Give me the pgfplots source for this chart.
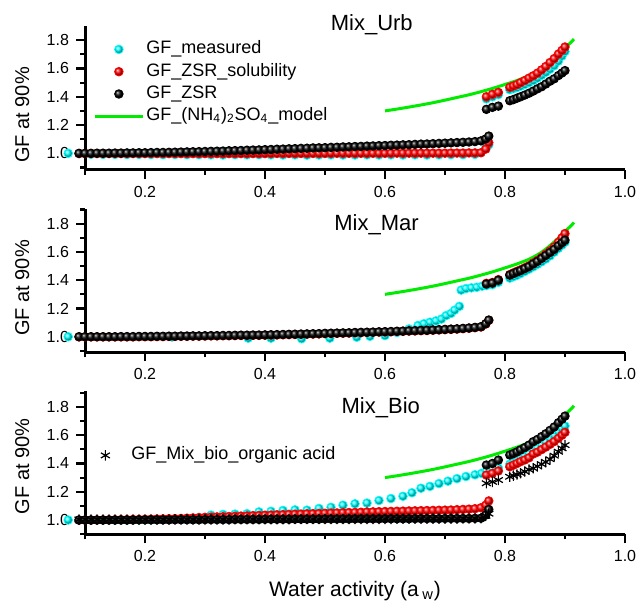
\documentclass[border=0pt]{standalone}
\usepackage{fontspec}
\setmainfont{Liberation Sans}
\usepackage{pgfplots}
\usepackage{pgfplotstable}
\pgfplotsset{compat=1.18}
\definecolor{gfcyan}{RGB}{0,255,255}
\definecolor{gfred}{RGB}{255,0,0}
\definecolor{gfgreen}{RGB}{0,235,0}

% ---- (NH4)2SO4 model curve, same in all panels ----
\pgfplotstableread{
x gf
0.600 1.300
0.620 1.313
0.640 1.327
0.660 1.342
0.680 1.358
0.700 1.376
0.720 1.395
0.740 1.414
0.760 1.436
0.780 1.460
0.800 1.487
0.820 1.515
0.840 1.548
0.850 1.570
0.860 1.595
0.870 1.627
0.880 1.663
0.890 1.702
0.900 1.745
0.910 1.785
0.915 1.808
}\tabgreen

% ---- Mix_Urb: x, ZSR_solubility, ZSR ----
\pgfplotstableread{
x sol zsr
0.09 0.998 1.000
0.10 0.998 1.000
0.11 0.998 1.000
0.12 0.998 1.001
0.13 0.998 1.001
0.14 0.998 1.001
0.15 0.998 1.002
0.16 0.998 1.002
0.17 0.998 1.003
0.18 0.998 1.003
0.19 0.998 1.004
0.20 0.998 1.004
0.21 0.998 1.005
0.22 0.998 1.006
0.23 0.998 1.006
0.24 0.998 1.007
0.25 0.998 1.008
0.26 0.998 1.009
0.27 0.998 1.010
0.28 0.998 1.011
0.29 0.998 1.012
0.30 0.998 1.013
0.31 0.998 1.014
0.32 0.998 1.015
0.33 0.998 1.016
0.34 0.998 1.018
0.35 0.998 1.019
0.36 0.998 1.020
0.37 0.998 1.022
0.38 0.998 1.023
0.39 0.998 1.024
0.40 0.998 1.026
0.41 0.999 1.027
0.42 0.999 1.029
0.43 0.999 1.030
0.44 0.999 1.032
0.45 0.999 1.033
0.46 0.999 1.035
0.47 0.999 1.036
0.48 0.999 1.038
0.49 0.999 1.039
0.50 0.999 1.040
0.51 1.000 1.042
0.52 1.000 1.043
0.53 1.000 1.045
0.54 1.000 1.046
0.55 1.000 1.048
0.56 1.000 1.049
0.57 1.000 1.051
0.58 1.000 1.052
0.59 1.000 1.054
0.60 1.000 1.055
0.61 1.001 1.057
0.62 1.001 1.058
0.63 1.001 1.060
0.64 1.001 1.061
0.65 1.001 1.063
0.66 1.001 1.065
0.67 1.001 1.066
0.68 1.001 1.068
0.69 1.001 1.070
0.70 1.001 1.072
0.71 1.002 1.074
0.72 1.002 1.076
0.73 1.002 1.078
0.74 1.003 1.080
0.75 1.003 1.083
0.76 1.004 1.088
0.768 1.030 1.102
0.773 1.075 1.122
0.769 1.400 1.311
0.779 1.417 1.325
0.789 1.431 1.334
0.808 1.467 1.372
0.814 1.476 1.380
0.820 1.486 1.390
0.826 1.500 1.400
0.833 1.515 1.412
0.840 1.532 1.425
0.847 1.548 1.440
0.854 1.567 1.456
0.861 1.590 1.471
0.868 1.614 1.490
0.875 1.642 1.510
0.882 1.670 1.527
0.889 1.702 1.550
0.895 1.728 1.568
0.900 1.752 1.585
}\taburb

\pgfplotstableread{
x meas
0.072 1.000
0.11 0.993
0.13 0.992
0.15 0.992
0.17 0.991
0.19 0.992
0.21 0.991
0.23 0.990
0.25 0.991
0.27 0.990
0.29 0.990
0.31 0.989
0.33 0.988
0.35 0.990
0.37 0.989
0.39 0.990
0.41 0.989
0.43 0.988
0.45 0.989
0.47 0.987
0.49 0.988
0.51 0.989
0.53 0.988
0.55 0.988
0.57 0.989
0.59 0.988
0.61 0.989
0.63 0.988
0.65 0.989
0.67 0.988
0.69 0.989
0.71 0.990
0.73 0.990
0.75 0.992
0.768 1.040
0.773 1.060
0.769 1.385
0.779 1.400
0.789 1.415
0.808 1.450
0.814 1.457
0.820 1.465
0.826 1.475
0.833 1.487
0.840 1.500
0.847 1.515
0.854 1.532
0.861 1.552
0.868 1.573
0.875 1.595
0.882 1.620
0.889 1.652
0.895 1.688
0.900 1.720
}\taburbmeas

% ---- Mix_Mar ----
\pgfplotstableread{
x sol zsr
0.09 0.999 1.000
0.10 0.999 1.000
0.11 0.999 1.000
0.12 0.999 1.000
0.13 0.999 1.000
0.14 0.999 1.000
0.15 0.999 1.000
0.16 0.999 1.001
0.17 0.999 1.001
0.18 0.999 1.001
0.19 1.000 1.002
0.20 1.000 1.002
0.21 1.000 1.002
0.22 1.001 1.003
0.23 1.001 1.003
0.24 1.002 1.004
0.25 1.002 1.004
0.26 1.003 1.005
0.27 1.003 1.005
0.28 1.004 1.006
0.29 1.004 1.006
0.30 1.005 1.007
0.31 1.006 1.008
0.32 1.006 1.008
0.33 1.007 1.009
0.34 1.007 1.009
0.35 1.008 1.010
0.36 1.009 1.011
0.37 1.009 1.011
0.38 1.010 1.012
0.39 1.010 1.012
0.40 1.011 1.013
0.41 1.012 1.014
0.42 1.013 1.015
0.43 1.014 1.016
0.44 1.015 1.017
0.45 1.016 1.018
0.46 1.017 1.019
0.47 1.018 1.020
0.48 1.019 1.021
0.49 1.020 1.022
0.50 1.022 1.024
0.51 1.023 1.025
0.52 1.024 1.026
0.53 1.025 1.027
0.54 1.026 1.028
0.55 1.028 1.030
0.56 1.029 1.031
0.57 1.030 1.032
0.58 1.031 1.033
0.59 1.033 1.035
0.60 1.034 1.036
0.61 1.035 1.037
0.62 1.037 1.039
0.63 1.038 1.040
0.64 1.040 1.042
0.65 1.041 1.043
0.66 1.043 1.045
0.67 1.044 1.046
0.68 1.046 1.048
0.69 1.048 1.050
0.70 1.050 1.052
0.71 1.052 1.054
0.72 1.054 1.056
0.73 1.057 1.059
0.74 1.060 1.062
0.75 1.064 1.066
0.76 1.069 1.071
0.768 1.090 1.092
0.773 1.116 1.118
0.769 1.378 1.373
0.779 1.384 1.380
0.789 1.404 1.400
0.808 1.440 1.436
0.814 1.452 1.447
0.820 1.463 1.458
0.826 1.474 1.468
0.833 1.488 1.482
0.840 1.502 1.496
0.847 1.522 1.515
0.854 1.540 1.533
0.861 1.562 1.554
0.868 1.585 1.575
0.875 1.608 1.596
0.882 1.635 1.618
0.889 1.668 1.644
0.895 1.700 1.665
0.900 1.730 1.683
}\tabmar

\pgfplotstableread{
x meas
0.072 1.000
0.245 0.998
0.372 0.990
0.410 0.990
0.461 0.986
0.508 0.990
0.553 0.997
0.575 1.003
0.600 1.008
0.620 1.030
0.640 1.055
0.655 1.080
0.665 1.092
0.675 1.103
0.685 1.112
0.694 1.125
0.702 1.150
0.710 1.165
0.716 1.188
0.724 1.215
0.727 1.330
0.735 1.341
0.744 1.346
0.753 1.350
0.762 1.358
0.769 1.362
0.779 1.368
0.789 1.385
0.808 1.415
0.814 1.425
0.820 1.435
0.826 1.447
0.833 1.462
0.840 1.478
0.847 1.495
0.854 1.512
0.861 1.530
0.868 1.550
0.875 1.572
0.882 1.598
0.889 1.625
0.895 1.648
0.900 1.668
}\tabmarmeas

% ---- Mix_Bio: x, ZSR_solubility, ZSR, organic acid ----
\pgfplotstableread{
x sol zsr star
0.09 1.000 1.000 1.004
0.10 1.000 1.000 1.004
0.11 1.000 1.000 1.004
0.12 1.001 1.000 1.004
0.13 1.001 1.000 1.004
0.14 1.002 1.000 1.004
0.15 1.002 1.000 1.004
0.16 1.003 1.000 1.004
0.17 1.003 1.000 1.004
0.18 1.004 1.000 1.004
0.19 1.004 1.001 1.004
0.20 1.005 1.001 1.004
0.21 1.006 1.001 1.004
0.22 1.007 1.001 1.004
0.23 1.008 1.001 1.004
0.24 1.009 1.001 1.004
0.25 1.010 1.002 1.005
0.26 1.011 1.002 1.005
0.27 1.013 1.002 1.005
0.28 1.015 1.002 1.005
0.29 1.017 1.002 1.005
0.30 1.019 1.003 1.005
0.31 1.020 1.003 1.005
0.32 1.022 1.003 1.005
0.33 1.023 1.003 1.005
0.34 1.025 1.003 1.005
0.35 1.026 1.004 1.006
0.36 1.028 1.004 1.006
0.37 1.029 1.004 1.006
0.38 1.031 1.004 1.006
0.39 1.032 1.004 1.006
0.40 1.034 1.005 1.006
0.41 1.035 1.005 1.006
0.42 1.037 1.005 1.006
0.43 1.038 1.005 1.006
0.44 1.040 1.005 1.006
0.45 1.041 1.006 1.007
0.46 1.042 1.006 1.007
0.47 1.044 1.006 1.007
0.48 1.045 1.006 1.007
0.49 1.046 1.006 1.007
0.50 1.048 1.007 1.007
0.51 1.049 1.007 1.007
0.52 1.050 1.007 1.007
0.53 1.052 1.007 1.007
0.54 1.053 1.007 1.008
0.55 1.054 1.008 1.008
0.56 1.055 1.008 1.008
0.57 1.057 1.008 1.008
0.58 1.058 1.008 1.008
0.59 1.059 1.008 1.008
0.60 1.060 1.009 1.008
0.61 1.061 1.009 1.008
0.62 1.062 1.009 1.009
0.63 1.063 1.009 1.009
0.64 1.064 1.009 1.009
0.65 1.065 1.010 1.009
0.66 1.066 1.010 1.009
0.67 1.067 1.010 1.009
0.68 1.068 1.010 1.010
0.69 1.069 1.010 1.010
0.70 1.070 1.011 1.010
0.71 1.071 1.011 1.010
0.72 1.073 1.011 1.010
0.73 1.075 1.011 1.011
0.74 1.077 1.011 1.011
0.75 1.080 1.012 1.012
0.76 1.087 1.013 1.013
0.768 1.105 1.035 1.030
0.773 1.135 1.075 1.045
0.769 1.318 1.389 1.260
0.779 1.330 1.400 1.270
0.789 1.347 1.424 1.283
0.808 1.377 1.460 1.306
0.814 1.388 1.470 1.314
0.820 1.400 1.482 1.322
0.826 1.413 1.496 1.331
0.833 1.425 1.512 1.343
0.840 1.440 1.530 1.356
0.847 1.467 1.554 1.366
0.854 1.480 1.570 1.380
0.861 1.498 1.590 1.395
0.868 1.516 1.610 1.410
0.875 1.535 1.634 1.430
0.882 1.555 1.658 1.455
0.889 1.578 1.688 1.483
0.895 1.600 1.713 1.507
0.900 1.620 1.735 1.530
}\tabbio

\pgfplotstableread{
x meas
0.072 1.000
0.09 1.000
0.11 1.000
0.13 1.000
0.15 1.000
0.17 1.000
0.19 1.001
0.21 1.002
0.23 1.004
0.25 1.006
0.27 1.010
0.29 1.018
0.31 1.035
0.33 1.040
0.35 1.042
0.37 1.045
0.39 1.058
0.41 1.062
0.43 1.068
0.45 1.072
0.47 1.070
0.49 1.082
0.51 1.090
0.53 1.105
0.55 1.115
0.57 1.120
0.59 1.138
0.61 1.152
0.63 1.168
0.645 1.193
0.66 1.225
0.675 1.238
0.69 1.258
0.705 1.275
0.72 1.293
0.735 1.308
0.75 1.320
0.761 1.330
0.769 1.345
0.779 1.355
0.789 1.368
0.808 1.395
0.814 1.405
0.820 1.418
0.826 1.432
0.833 1.450
0.840 1.468
0.847 1.488
0.854 1.508
0.861 1.530
0.868 1.553
0.875 1.578
0.882 1.600
0.889 1.625
0.895 1.648
0.900 1.665
}\tabbiomeas

\pgfplotsset{
  gfpanel/.style={
    scale only axis, width=270pt, height=71.75pt,
    xmin=0.1, xmax=1.0,
    axis lines=left,
    axis line style={-, line width=1.5pt},
    tick align=outside,
    tick style={line width=1.1pt, black},
    major tick length=4.5pt, minor tick length=2.5pt,
    xtick={0.2,0.4,0.6,0.8,1.0},
    minor xtick={0.1,0.3,0.5,0.7,0.9},
    ytick={1.0,1.2,1.4,1.6,1.8},
    minor ytick={0.9,1.1,1.3,1.5,1.7,1.9},
    ticklabel style={font=\fontsize{8}{9}\selectfont},
    /pgf/number format/fixed,
    /pgf/number format/fixed zerofill,
    /pgf/number format/precision=1,
    /pgf/number format/assume math mode=true,
    clip=false,
  },
  ballplot/.style={only marks, mark=ball, mark size=2.15pt, color=#1,
    mark options={ball color=#1},
    legend image code/.code={\path[draw=none,fill=none] (0pt,0pt) -- (24pt,0pt);
      \draw[##1] plot coordinates {(12pt,0pt)};}},
  starplot/.style={only marks, mark=asterisk, mark size=2.6pt, color=black,
    mark options={line width=0.6pt},
    legend image code/.code={\path[draw=none,fill=none] (0pt,0pt) -- (24pt,0pt);
      \draw[##1] plot coordinates {(12pt,0pt)};}},
  greenline/.style={no marks, smooth, color=gfgreen, line width=1.5pt,
    legend image code/.code={\draw[##1] (0pt,0pt) -- (24pt,0pt);}},
  gflegend/.style={legend style={draw=none, fill=none, at={#1}, anchor=north west,
    inner sep=0pt, row sep=2.65pt, legend cell align=left,
    nodes={inner xsep=1pt, inner ysep=0pt, text height=6.5pt, text depth=2pt},
    font=\fontsize{9}{10}\selectfont}},
}

\begin{document}
\begin{tikzpicture}
\useasboundingbox (0pt,0pt) rectangle (318.5pt,303pt);

% ---------------- Mix_Urb ----------------
\begin{axis}[gfpanel, at={(42.5pt,218pt)}, anchor=south west,
  ymin=0.882, ymax=1.897, gflegend={(axis cs:0.1133,1.798)}]
\addplot[ballplot=gfcyan] table[x=x,y=meas] {\taburbmeas};
\addlegendentry{GF\_measured}
\addplot[ballplot=gfred] table[x=x,y=sol] {\taburb};
\addlegendentry{GF\_ZSR\_solubility}
\addplot[ballplot=black] table[x=x,y=zsr] {\taburb};
\addlegendentry{GF\_ZSR}
\addplot[greenline] table[x=x,y=gf] {\tabgreen};
\addlegendentry{GF\_(NH\textsubscript{4})\textsubscript{2}SO\textsubscript{4}\_model}
\node[anchor=base, font=\fontsize{11}{12}\selectfont] at (axis cs:0.578,1.867) {Mix\_Urb};
\end{axis}

% ---------------- Mix_Mar ----------------
\begin{axis}[gfpanel, at={(42.5pt,126.85pt)}, anchor=south west,
  ymin=0.89, ymax=1.905]
\addplot[ballplot=gfcyan] table[x=x,y=meas] {\tabmarmeas};
\addplot[ballplot=gfred] table[x=x,y=sol] {\tabmar};
\addplot[ballplot=black] table[x=x,y=zsr] {\tabmar};
\addplot[greenline] table[x=x,y=gf] {\tabgreen};
\node[anchor=base, font=\fontsize{11}{12}\selectfont] at (axis cs:0.586,1.755) {Mix\_Mar};
\end{axis}

% ---------------- Mix_Bio ----------------
\begin{axis}[gfpanel, at={(42.5pt,35.85pt)}, anchor=south west,
  ymin=0.899, ymax=1.914, gflegend={(axis cs:0.0933,1.52)}]
\addplot[ballplot=gfcyan, forget plot] table[x=x,y=meas] {\tabbiomeas};
\addplot[ballplot=gfred, forget plot] table[x=x,y=sol] {\tabbio};
\addplot[ballplot=black, forget plot] table[x=x,y=zsr] {\tabbio};
\addplot[greenline, forget plot] table[x=x,y=gf] {\tabgreen};
\addplot[starplot] table[x=x,y=star] {\tabbio};
\addlegendentry{GF\_Mix\_bio\_organic acid}
\node[anchor=base, font=\fontsize{11}{12}\selectfont] at (axis cs:0.593,1.755) {Mix\_Bio};
\node[anchor=base, font=\fontsize{10.5}{12}\selectfont] at (rel axis cs:0.5,0) [yshift=-31.2pt] {Water activity (a\,\textsubscript{w})};
\end{axis}

% y labels
\node[rotate=90, anchor=base, font=\fontsize{10}{12}\selectfont] at (14.5pt,245.5pt) {GF at 90\%};
\node[rotate=90, anchor=base, font=\fontsize{10}{12}\selectfont] at (14.5pt,159pt) {GF at 90\%};
\node[rotate=90, anchor=base, font=\fontsize{10}{12}\selectfont] at (14.5pt,69.75pt) {GF at 90\%};
\end{tikzpicture}
\end{document}
